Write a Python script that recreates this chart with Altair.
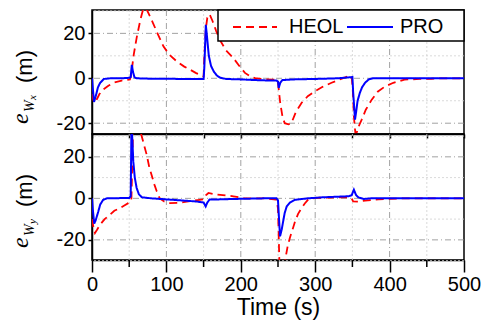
import altair as alt
import pandas as pd

# ---------------- data ----------------
# Top panel: e_Wx
wx_pro_t = [0, 1, 2.7, 5, 8, 11, 16, 25, 40, 50, 52, 53.5, 55, 57, 60, 80, 100, 120, 140, 150,
            151, 153, 155, 157, 160, 164, 168, 172, 180, 200, 220, 240, 248, 250, 251, 253, 256,
            270, 300, 330, 348, 350, 351, 353.5, 355, 357, 360, 363, 367, 372, 378, 500]
wx_pro_v = [0, -4, -10.5, -8, -4, -2, -0.3, 0, 0, 0.2, 0.5, 6, 3, 0.5, 0, -0.2, -0.2, -0.3, -0.3, -0.3,
            5, 23.8, 17, 10, 5.5, 2.8, 1.2, 0.3, -0.3, -0.5, -0.8, -1, -1, -1.5, -4.3, -2, -0.8,
            -0.5, -0.3, 0, 0.5, 0.6, -6, -18.4, -15, -10, -6.5, -4, -2, -0.5, 0, 0]
wx_heol_t = [0, 2, 4, 7, 10, 15, 22, 29, 40, 51, 53, 55.7, 60, 65, 69, 73, 78, 82, 88, 96, 104, 114,
             124, 132, 140, 150, 151, 153, 155, 158, 162, 167, 172, 180, 190, 198, 205.6, 212, 219,
             230, 248, 250, 251, 253, 256, 259, 264, 268, 274, 281.6, 290, 299.6, 310, 322, 333,
             344.5, 349, 350.5, 352, 354, 356, 359, 362.5, 368, 376, 384, 394, 405, 420, 440, 456,
             470, 500]
wx_heol_v = [-7, -10, -11, -9, -7, -5, -3.3, -2, -1, -0.5, 2, 9.8, 18, 26, 31, 31, 27.5, 24.6, 20, 14.2,
             10.5, 7.5, 5.2, 3.8, 2.3, 0.9, 10, 22, 27, 28.5, 25.5, 21, 17, 12.5, 9, 5.5, 2.4, 1, 0.1,
             -0.4, -0.6, -2, -5, -11, -17, -20, -20.5, -20, -15, -11, -8, -5.8, -3.8, -2, -0.5,
             0.9, 1, -5, -17, -24.5, -24, -21, -18.4, -14, -9.5, -6, -3.6, -2, -0.6, -0.3, -0.2,
             0, 0]

# Bottom panel: e_Wy
wy_pro_t = [0, 1, 3, 5, 8.5, 11, 15, 20, 50, 52, 53, 54, 55.5, 57.5, 60, 63, 67, 80, 100, 120, 140,
            150, 152.8, 155, 158, 170, 190, 205, 230, 248, 250, 252.7, 255, 257, 259, 261.7, 266,
            273, 290, 310, 330, 345, 349, 352, 355, 358, 365, 375, 500]
wy_pro_v = [0, -5, -12.2, -10.5, -6.3, -3, -0.7, 0, 0.2, 1, 33, 30, 17.8, 10, 5, 2, 0.5, 0, -0.5, -1,
            -1.5, -2, -3.9, -2, -0.6, -0.5, -0.3, -0.2, 0, 0, -1, -18.3, -15, -11, -7, -3.9, -2,
            -0.7, 0, 0.5, 0.8, 1, 1.5, 4.2, 1.5, 0.5, -0.3, 0, 0]
wy_heol_t = [0, 2, 4, 7, 10.8, 17, 24, 30, 37.6, 44, 48.8, 52, 53, 55, 58, 62, 66, 69, 73.5, 77, 80,
             84, 87, 91, 97, 104.8, 115, 123, 135, 145, 150, 153, 156.5, 162, 167.6, 180, 190, 198,
             205, 230, 248, 250, 251.8, 253, 256, 259, 261, 263, 266, 270, 273, 277, 281.6, 286,
             290.5, 300, 320, 345, 349, 351, 358, 367, 375, 385, 400, 420, 500]
wy_heol_v = [-10, -14, -16.7, -15, -12.7, -10, -7.9, -6, -4.7, -3.3, -2.3, -1.5, 0, 30, 40, 38, 31,
             27, 21, 15, 11.4, 6.5, 3.4, 0, -1.5, -2.3, -2.2, -1.8, -1.2, -0.7, -0.5, 1.5, 2.6, 2.2,
             1.8, 1.4, 1, 0.5, 0, 0, -0.6, -5, -30, -38, -40, -32, -27, -23, -19, -14.5, -11, -7.5,
             -4.7, -2.5, -0.6, 0.2, 0.4, 0.5, 0, -1.5, -1.6, -1.1, -0.8, -0.5, -0.2, 0, 0]

series_names = ["HEOL", "PRO"]
series_colors = ["#ff0000", "#0000ff"]
series_dash = [[8, 5], [1, 0]]

x_labels = [0, 100, 200, 300, 400, 500]
x_minor = [50, 150, 250, 350, 450]
x_all = [0, 50, 100, 150, 200, 250, 300, 350, 400, 450, 500]
y_major = [-20, 0, 20]
y_minor_top = [-10, 10, 30]
y_minor_bot = [-30, -10, 10, 30]
top_domain = [-24.8, 30.4]
bot_domain = [-29.7, 31.0]

# ---------------- helpers ----------------
W = 372
H_TOP = 124
H_BOT = 126
FONT = "Liberation Sans"
SERIF = "Liberation Serif"
ONE = pd.DataFrame({"a": [0]})


def frame(t, v, name):
    return pd.DataFrame({"t": t, "v": v, "series": name})


def xenc(bottom):
    if bottom:
        ax = alt.Axis(values=x_labels, tickSize=12, labelPadding=2, title="Time (s)",
                      titleFont=FONT, titleFontSize=23, titleFontWeight="normal",
                      titlePadding=2, labelFont=FONT, labelFontSize=20, grid=False,
                      labelFlush=False)
    else:
        ax = alt.Axis(values=x_all, tickSize=4, labels=False, title=None, grid=False)
    return alt.X("t:Q", scale=alt.Scale(domain=[0, 500], nice=False, zero=False), axis=ax)


def yenc(domain):
    return alt.Y("v:Q", scale=alt.Scale(domain=domain, nice=False, zero=False),
                 axis=alt.Axis(values=y_major, tickSize=4, labelPadding=3, title=None, grid=False,
                               labelFont=FONT, labelFontSize=20,
                               labelExpr="'' + datum.value"))


def txt(s, font, size, italic, x, y, angle=270, baseline="alphabetic", color="black"):
    kw = dict(text=s, font=font, fontSize=size, angle=angle, align="left",
              baseline=baseline, color=color)
    if italic:
        kw["fontStyle"] = "italic"
    return alt.Chart(ONE).mark_text(**kw).encode(x=alt.value(x), y=alt.value(y))


def legend_layers():
    # boxed legend in the top-right corner of the upper panel
    box = alt.Chart(ONE).mark_rect(fill="white", stroke="black", strokeWidth=1.5).encode(
        x=alt.value(126), x2=alt.value(W), y=alt.value(0), y2=alt.value(31))
    out = [box]
    sample_x = [(141, 185), (255, 301)]
    label_x = [197, 308]
    for i, name in enumerate(series_names):
        x0, x1 = sample_x[i]
        out.append(alt.Chart(ONE).mark_rule(
            color=series_colors[i], strokeWidth=2, strokeDash=series_dash[i]).encode(
            x=alt.value(x0), x2=alt.value(x1), y=alt.value(17)))
        out.append(txt(name, FONT, 20, False, label_x[i], 17, angle=0, baseline="middle"))
    return out


def panel(df_heol, df_pro, domain, height, bottom, minor_y, title_sub, title_pos):
    scale_c = alt.Scale(domain=series_names, range=series_colors)
    scale_d = alt.Scale(domain=series_names, range=series_dash)
    color = alt.Color("series:N", scale=scale_c, legend=None)
    dash = alt.StrokeDash("series:N", scale=scale_d, legend=None)

    ymaj = alt.Chart(pd.DataFrame({"v": y_major})).mark_rule(
        color="#8a8a8a", strokeWidth=0.8, strokeDash=[6, 3, 1, 3]).encode(y=yenc(domain))
    ymin = alt.Chart(pd.DataFrame({"v": minor_y})).mark_rule(
        color="#d0d0d0", strokeWidth=0.8, strokeDash=[2, 2]).encode(y=yenc(domain))
    xmaj = alt.Chart(pd.DataFrame({"t": x_labels[1:-1]})).mark_rule(
        color="#8a8a8a", strokeWidth=0.8, strokeDash=[6, 3, 1, 3]).encode(x=xenc(bottom))
    xmin = alt.Chart(pd.DataFrame({"t": x_minor})).mark_rule(
        color="#d0d0d0", strokeWidth=0.8, strokeDash=[2, 2]).encode(x=xenc(bottom))

    heol = alt.Chart(df_heol).mark_line(strokeWidth=1.8, clip=True).encode(
        x=xenc(bottom), y=yenc(domain), color=color, strokeDash=dash, order="t:Q")
    pro = alt.Chart(df_pro).mark_line(strokeWidth=2, clip=True).encode(
        x=xenc(bottom), y=yenc(domain), color=color, strokeDash=dash, order="t:Q")

    (ex, ey), (wx, wy), (sx, sy), (mx, my) = title_pos
    t_e = txt("e", SERIF, 24, True, ex, ey)
    t_w = txt("W", SERIF, 14, True, wx, wy)
    t_s = txt(title_sub, SERIF, 11, True, sx, sy)
    t_m = txt("(m)", FONT, 22, False, mx, my)

    layers = [ymin, xmin, ymaj, xmaj, heol, pro, t_e, t_w, t_s, t_m]
    if bottom:
        mt = alt.Chart(pd.DataFrame({"t": x_minor})).mark_rule(
            color="black", strokeWidth=1.5).encode(
            x=xenc(bottom), y=alt.value(height), y2=alt.value(height + 7))
        layers.append(mt)
    else:
        layers += legend_layers()
    return alt.layer(*layers).properties(width=W, height=height)


top = panel(frame(wx_heol_t, wx_heol_v, "HEOL"),
            frame(wx_pro_t, wx_pro_v, "PRO"),
            top_domain, H_TOP, False, y_minor_top, "x",
            [(-64, 114), (-58, 102), (-56, 90), (-60, 73)])
bot = panel(frame(wy_heol_t, wy_heol_v, "HEOL"),
            frame(wy_pro_t, wy_pro_v, "PRO"),
            bot_domain, H_BOT, True, y_minor_bot, "y",
            [(-64, 114), (-58, 102), (-56, 90), (-60, 73)])

chart = alt.vconcat(top, bot, spacing=0, bounds="flush").configure_view(
    stroke="black", strokeWidth=1.5
).configure_axis(
    domainColor="black", domainWidth=1.5, tickColor="black", tickWidth=1.5,
    labelColor="black", titleColor="black"
).properties(padding={"left": 0, "top": 0, "right": 0, "bottom": 0}, background="white")

chart.save("out.html", embed_options={"renderer": "svg", "actions": False})
